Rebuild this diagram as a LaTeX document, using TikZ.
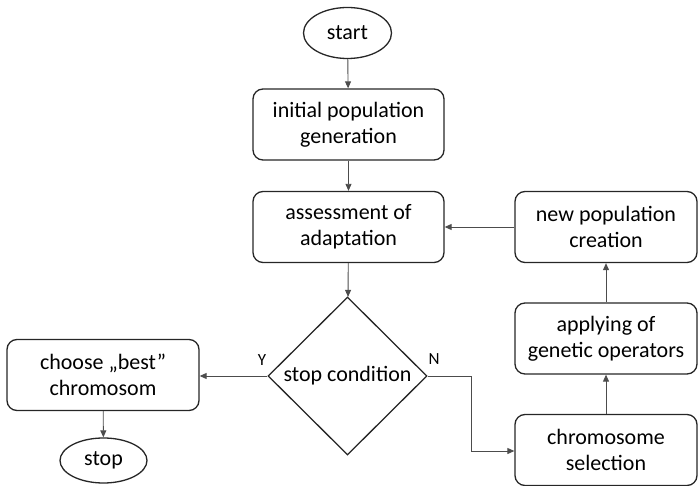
\documentclass[tikz,border=0pt]{standalone}
\usepackage{fontspec}
\setmainfont{Carlito}
\usetikzlibrary{shapes.geometric,arrows.meta}
\begin{document}
\begin{tikzpicture}[x=1pt,y=-1pt,
  box/.style={draw=black!85,line width=1.3pt,rounded corners=10pt,minimum width=191pt,minimum height=71pt,align=center,font=\fontsize{22}{26}\selectfont,inner sep=0pt},
  term/.style={draw=black!85,line width=1.3pt,ellipse,inner sep=0pt,font=\fontsize{22}{26}\selectfont},
  cond/.style={draw=black!85,line width=1.3pt,diamond,inner sep=0pt,minimum width=159pt,minimum height=158pt,font=\fontsize{22}{26}\selectfont},
  conn/.style={draw=black!70,line width=0.9pt,-{Triangle[length=7pt,width=6pt]}},
  lab/.style={font=\fontsize{17}{19}\selectfont}]
\useasboundingbox (0,0) rectangle (699,486);
\node[term,minimum width=88pt,minimum height=51pt] (start) at (347.5,33) {start};
\node[box] (init) at (348.5,124.5) {initial population\\generation};
\node[box] (assess) at (348.5,227) {assessment of\\adaptation};
\node[cond] (stopc) at (347.5,376) {stop condition};
\node[box,minimum width=192pt] (best) at (103,375) {choose „best”\\chromosom};
\node[term,minimum width=87pt,minimum height=45pt] (stop) at (103.5,460.5) {stop};
\node[box,minimum width=182pt] (newpop) at (606,227) {new population\\creation};
\node[box,minimum width=182pt] (apply) at (606,338.5) {applying of\\genetic operators};
\node[box,minimum width=182pt] (sel) at (606,450) {chromosome\\selection};
\node[lab] (ylab) at (262,360) {Y};
\node[lab] (nlab) at (434,359) {N};
\coordinate (c1) at (471,376);
\coordinate (c2) at (471,451);
\draw[conn] (start) -- (init);
\draw[conn] (init) -- (assess);
\draw[conn] (assess) -- (stopc);
\draw[conn] (stopc.west) -- (stopc.west -| best.east);
\draw[conn] (best) -- (stop);
\draw[conn] (stopc.east) -- (c1) -- (c2) -- (sel.west |- c2);
\draw[conn] (sel) -- (apply);
\draw[conn] (apply) -- (newpop);
\draw[conn] (newpop) -- (assess);
\end{tikzpicture}
\end{document}
